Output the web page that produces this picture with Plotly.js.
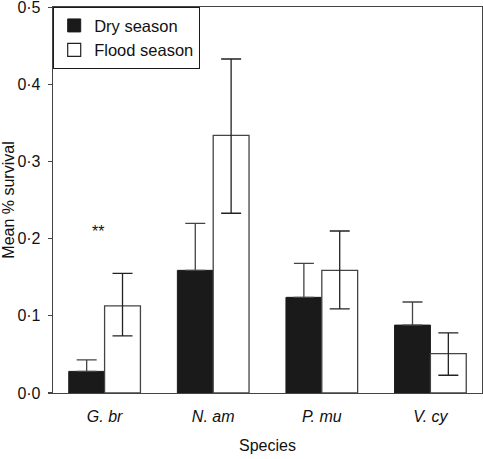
<!DOCTYPE html>
<html>
<head>
<meta charset="utf-8">
<script src="https://cdn.plot.ly/plotly-3.0.1.min.js"></script>
<style>html,body{margin:0;padding:0;background:#fff;}#chart{width:483px;height:459px;}</style>
</head>
<body>
<div id="chart"></div>
<script>
const species = ["G. br", "N. am", "P. mu", "V. cy"];
const seasons = ["Dry season", "Flood season"];
const dryMean = [0.028, 0.159, 0.124, 0.088];
const dryErrUp = [0.015, 0.061, 0.044, 0.030];
const floodMean = [0.113, 0.334, 0.159, 0.051];
const floodErrUp = [0.042, 0.099, 0.051, 0.027];
const floodErrDown = [0.039, 0.101, 0.050, 0.028];
const yTickVals = [0, 0.1, 0.2, 0.3, 0.4, 0.5];
const yTickText = ["0·0", "0·1", "0·2", "0·3", "0·4", "0·5"];

const lineCol = "#444";
const txtCol = "#111";
const fam = "Liberation Sans, Arial, sans-serif";
const font = {family: fam, size: 16, color: txtCol};

const traces = [
  {
    type: "bar", name: seasons[0], x: species, y: dryMean, showlegend: false,
    marker: {color: "#1a1a1a", line: {color: "#1a1a1a", width: 1}},
    error_y: {type: "data", symmetric: false, array: dryErrUp, arrayminus: dryErrUp.map(() => 0),
              color: lineCol, thickness: 1.3, width: 10}
  },
  {
    type: "bar", name: seasons[1], x: species, y: floodMean, showlegend: false,
    marker: {color: "#ffffff", line: {color: lineCol, width: 1.3}},
    error_y: {type: "data", symmetric: false, array: floodErrUp, arrayminus: floodErrDown,
              color: "#222", thickness: 1.3, width: 10}
  },
  {
    type: "scatter", mode: "markers", name: seasons[0], x: [null], y: [null],
    marker: {symbol: "square", size: 13, color: "#1a1a1a", line: {color: "#1a1a1a", width: 1}}
  },
  {
    type: "scatter", mode: "markers", name: seasons[1], x: [null], y: [null],
    marker: {symbol: "square", size: 13, color: "#ffffff", line: {color: "#222", width: 1.2}}
  }
];

const layout = {
  width: 483, height: 459,
  margin: {l: 53, r: 1, t: 7, b: 66},
  paper_bgcolor: "#fff", plot_bgcolor: "#fff",
  font: font,
  barmode: "group", bargap: 0.34, bargroupgap: 0,
  showlegend: true,
  legend: {
    x: 0, y: 1, xanchor: "left", yanchor: "top",
    bordercolor: "#1a1a1a", borderwidth: 1.2, bgcolor: "#fff",
    font: {family: fam, size: 16.5, color: txtCol},
    itemwidth: 30, tracegroupgap: 0
  },
  xaxis: {
    type: "category",
    range: [-0.475, 3.475],
    showline: true, linecolor: lineCol, linewidth: 1.3, mirror: true,
    ticks: "", showgrid: false, zeroline: false,
    tickfont: {family: fam, size: 16, color: txtCol, style: "italic"},
    ticklabelstandoff: 8,
    title: {text: "Species", font: {family: fam, size: 16, color: txtCol}, standoff: 16}
  },
  yaxis: {
    range: [0, 0.5004],
    tickvals: yTickVals, ticktext: yTickText,
    ticks: "outside", ticklen: 4, tickcolor: lineCol, tickwidth: 1.2,
    ticklabelstandoff: 4, ticklabeloverflow: "allow",
    showline: true, linecolor: lineCol, linewidth: 1.3, mirror: true,
    showgrid: false, zeroline: false,
    tickfont: {family: fam, size: 16, color: txtCol},
    title: {text: "Mean % survival", font: {family: fam, size: 16, color: txtCol}, standoff: 8}
  },
  annotations: [
    {x: species[0], y: 0.21, xref: "x", yref: "y", text: "**", showarrow: false,
     xshift: -7, font: {family: fam, size: 16, color: txtCol}}
  ]
};

Plotly.newPlot("chart", traces, layout, {displayModeBar: false, staticPlot: true});
</script>
</body>
</html>
